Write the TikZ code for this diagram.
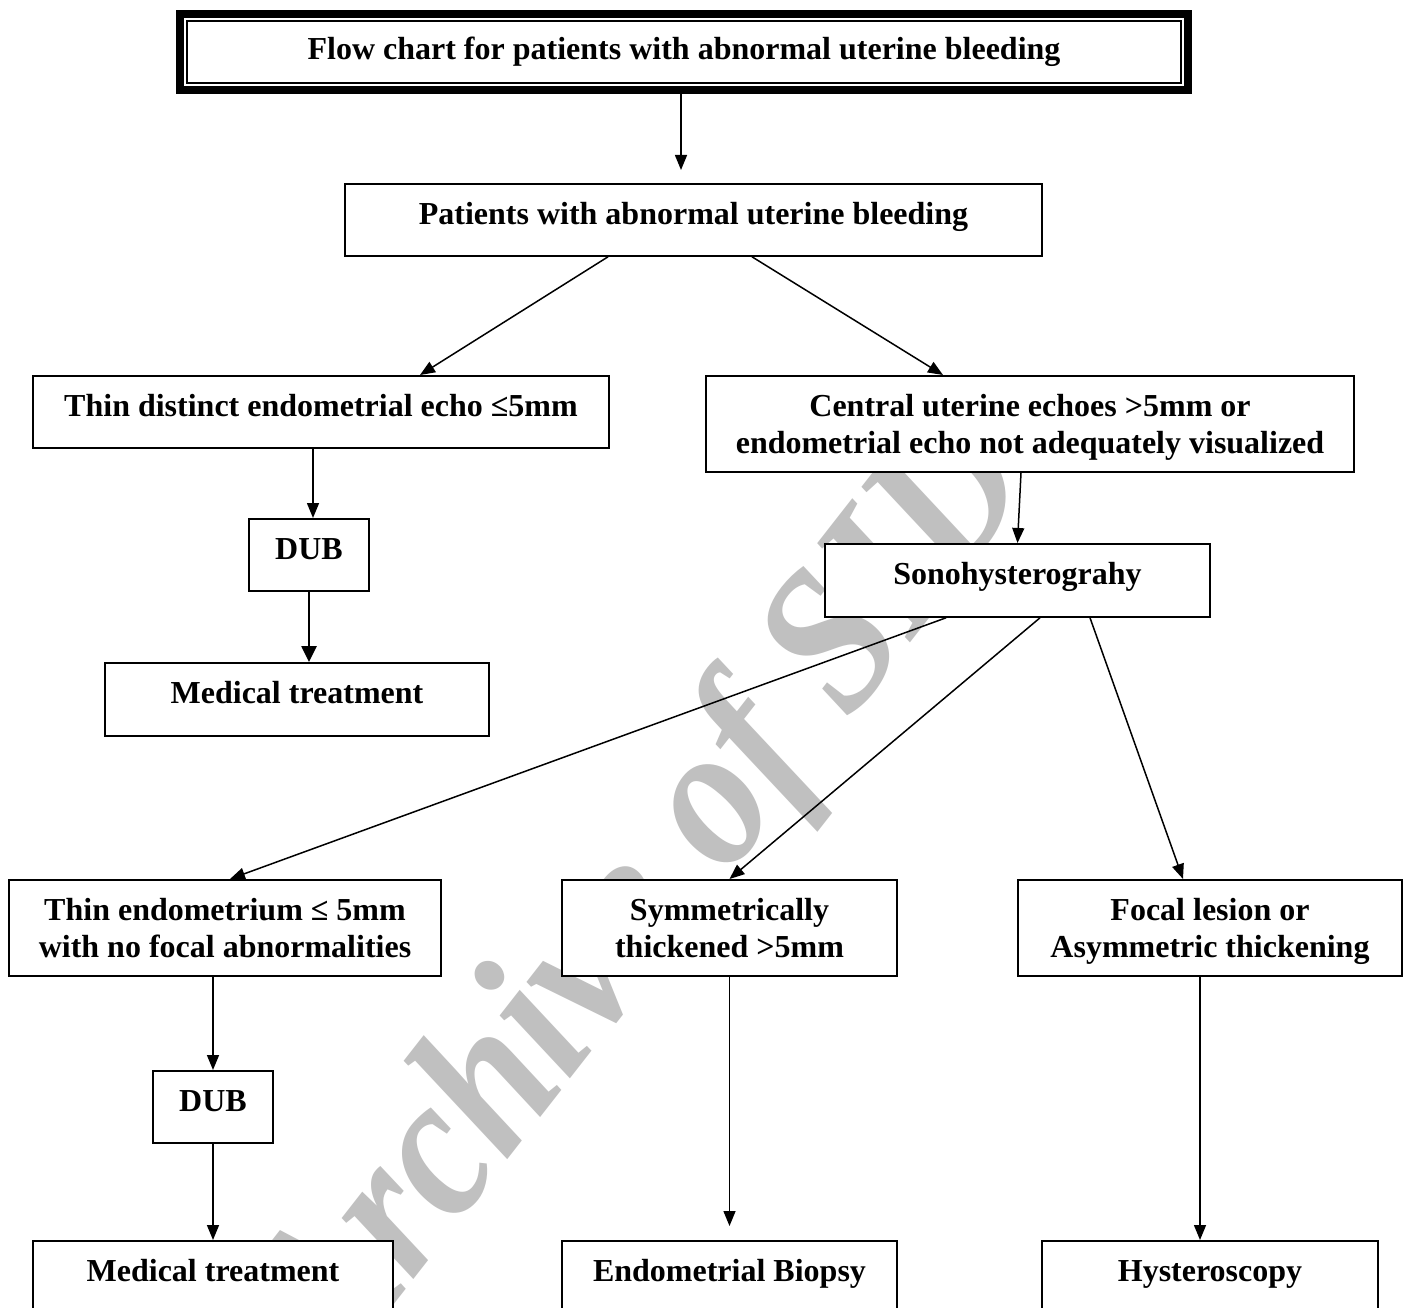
\documentclass[tikz,border=0pt]{standalone}
\usepackage{fontspec}
\setmainfont{Liberation Serif}
\usetikzlibrary{arrows.meta}
\definecolor{wmgray}{RGB}{192,192,192}
\begin{document}
\begin{tikzpicture}[x=1pt,y=-1pt,
  bx/.style={draw, fill=white, line width=1.8pt, inner sep=0pt, align=center,
    font=\fontsize{32}{37}\selectfont\bfseries, text height=40.5pt, anchor=north},
  bxtwo/.style={bx, text height=77.5pt},
  arr/.style={line width=1.5pt, -{Triangle[length=15pt,width=12pt]}},
  arrb/.style={line width=2.6pt, -{Triangle[length=16pt,width=15pt]}},
  wmark/.style={text=wmgray, font=\fontsize{183}{185}\selectfont\bfseries\itshape, rotate=52, inner sep=0pt}
]
\useasboundingbox (0,0) rectangle (1408,1308);
\clip (0,0) rectangle (1408,1308);
\fill[white] (0,0) rectangle (1408,1308);
% watermark
\node[wmark] (wm) at (647,899) {\scalebox{1}[1.12]{Archive of SID}};
% title
\node[minimum width=1016pt, minimum height=84pt, inner sep=0pt, anchor=north,
  font=\fontsize{32}{37}\selectfont\bfseries] (title) at (684,10) {Flow chart for patients with abnormal uterine bleeding};
\draw[line width=8pt] ([shift={(4pt,-4pt)}]title.north west) rectangle ([shift={(-4pt,4pt)}]title.south east);
\draw[line width=2.5pt] ([shift={(11.25pt,-11.25pt)}]title.north west) rectangle ([shift={(-11.25pt,11.25pt)}]title.south east);
% boxes
\node[bx, minimum width=697pt, minimum height=72pt, text depth=31.5pt] (pat) at (693.5,183) {Patients with abnormal uterine bleeding};
\node[bx, minimum width=576pt, minimum height=72pt, text depth=31.5pt] (thin) at (321,375) {Thin distinct endometrial echo ≤5mm};
\node[bxtwo, minimum width=648pt, minimum height=96pt, text depth=18.5pt] (central) at (1030,375) {Central uterine echoes >5mm or\\endometrial echo not adequately visualized};
\node[bx, minimum width=120pt, minimum height=72pt, text depth=31.5pt] (dubA) at (309,518) {DUB};
\node[bx, minimum width=385pt, minimum height=73pt, text depth=32.5pt] (sono) at (1017.5,543) {Sonohysterograhy};
\node[bx, minimum width=384pt, minimum height=73pt, text depth=32.5pt] (medA) at (297,662) {Medical treatment};
\node[bxtwo, minimum width=432pt, minimum height=96pt, text depth=18.5pt] (thinendo) at (225,879) {Thin endometrium ≤ 5mm\\with no focal abnormalities};
\node[bxtwo, minimum width=335pt, minimum height=96pt, text depth=18.5pt] (sym) at (729.5,879) {Symmetrically\\thickened >5mm};
\node[bxtwo, minimum width=384pt, minimum height=96pt, text depth=18.5pt] (focal) at (1210,879) {Focal lesion or\\Asymmetric thickening};
\node[bx, minimum width=120pt, minimum height=72pt, text depth=31.5pt] (dubB) at (213,1070) {DUB};
\node[bx, minimum width=360pt, minimum height=100pt, text depth=59.5pt] (medB) at (213,1240) {Medical treatment};
\node[bx, minimum width=335pt, minimum height=100pt, text depth=59.5pt] (bio) at (729.5,1240) {Endometrial Biopsy};
\node[bx, minimum width=336pt, minimum height=100pt, text depth=59.5pt] (hyst) at (1210,1240) {Hysteroscopy};
% connectors
\coordinate (tA) at ([xshift=-3pt]title.south);
\coordinate (tB) at ([yshift=13pt]pat.north);
\draw[arr] (tA) -- (tB -| tA);
\draw[arr] ([xshift=-85.5pt]pat.south) -- ([xshift=99pt]thin.north);
\draw[arr] ([xshift=58.5pt]pat.south) -- ([xshift=-87pt]central.north);
\draw[arr] ([xshift=-8pt]thin.south) -- ([xshift=4pt]dubA.north);
\draw[arrb] (dubA.south) -- ([xshift=12pt]medA.north);
\draw[arr] ([xshift=-9pt]central.south) -- (sono.north);
\draw[arr] ([xshift=-71.5pt]sono.south) -- ([xshift=5pt]thinendo.north);
\draw[arr] ([xshift=22.5pt]sono.south) -- (sym.north);
\draw[arr] ([xshift=72.5pt]sono.south) -- ([xshift=-27pt]focal.north);
\draw[arr] ([xshift=-12pt]thinendo.south) -- (dubB.north);
\draw[arr] (dubB.south) -- (medB.north);
\draw[arr] (sym.south) -- ([yshift=14pt]bio.north);
\draw[arr] ([xshift=-10pt]focal.south) -- ([xshift=-10pt]hyst.north);
\end{tikzpicture}
\end{document}
